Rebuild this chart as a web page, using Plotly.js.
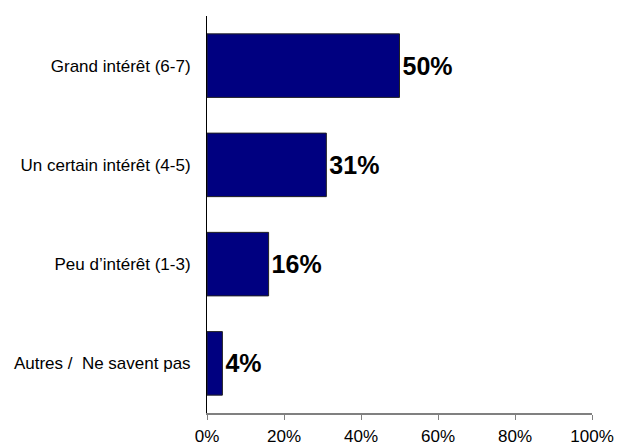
<!DOCTYPE html>
<html>
<head>
<meta charset="utf-8">
<script src="https://cdn.plot.ly/plotly-3.0.1.min.js"></script>
<style>html,body{margin:0;padding:0;background:#fff;}#chart{width:618px;height:448px;}</style>
</head>
<body>
<div id="chart"></div>
<script>
const categories = ["Grand intérêt (6-7)", "Un certain intérêt (4-5)", "Peu d’intérêt (1-3)", "Autres /  Ne savent pas"];
const values = [50, 31, 16, 4];
const valueLabels = ["50%", "31%", "16%", "4%"];
const xTickVals = [0, 20, 40, 60, 80, 100];
const xTickText = ["0%", "20%", "40%", "60%", "80%", "100%"];

const trace = {
  type: "bar",
  orientation: "h",
  y: categories,
  x: values,
  text: valueLabels,
  textposition: "outside",
  cliponaxis: false,
  textfont: {family: "Liberation Sans, Arial, sans-serif", size: 25, color: "#000", weight: "bold"},
  marker: {color: "#000080", line: {color: "#222", width: 1}},
  hoverinfo: "none"
};

const layout = {
  width: 618, height: 448,
  margin: {l: 207, r: 26, t: 16, b: 35},
  paper_bgcolor: "#fff", plot_bgcolor: "#fff",
  showlegend: false,
  bargap: 0.36,
  font: {family: "Liberation Sans, Arial, sans-serif", color: "#000"},
  xaxis: {
    range: [0, 100], tickvals: xTickVals, ticktext: xTickText,
    showgrid: false, zeroline: false,
    showline: true, linecolor: "#808080", linewidth: 2,
    ticks: "outside", ticklen: 5, tickcolor: "#808080", tickwidth: 1,
    tickfont: {size: 17, color: "#000"},
    ticklabelstandoff: 2,
    automargin: false, fixedrange: true
  },
  yaxis: {
    autorange: "reversed",
    showgrid: false, zeroline: false,
    showline: true, linecolor: "#000", linewidth: 1,
    ticks: "", tickfont: {size: 17, color: "#000"},
    ticklabelstandoff: 12,
    automargin: false, fixedrange: true
  }
};

Plotly.newPlot("chart", [trace], layout, {staticPlot: true, displayModeBar: false});
</script>
</body>
</html>
